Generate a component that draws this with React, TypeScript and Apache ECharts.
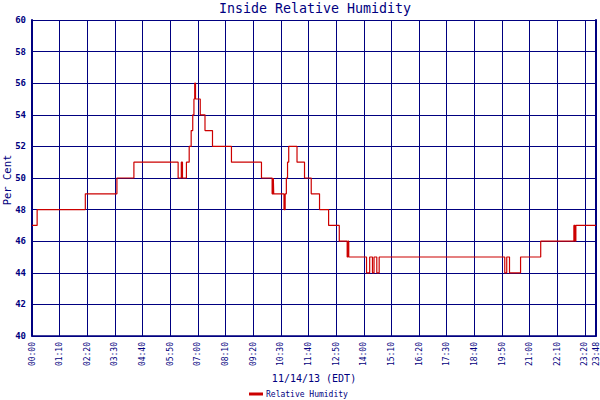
import React, { useEffect, useRef } from 'react';
import * as echarts from 'echarts';

// minutes since midnight where the reading changes, and the new value
const changeMinutes = [
  0, 13, 135, 215, 258, 370, 378, 381, 391, 398, 403, 407, 410, 412, 414, 426,
  438, 457, 505, 581, 608, 611, 612, 638, 641, 644, 647, 650, 671, 690, 707,
  728, 751, 778, 798, 800, 802, 847, 855, 862, 866, 873, 879, 1197, 1202, 1209,
  1237, 1288, 1372, 1375, 1377, 1428,
];
const humidity = [
  47, 48, 49, 50, 51, 50, 51, 50, 51, 52, 53, 54, 55, 56, 55, 54,
  53, 52, 51, 50, 49, 50, 49, 48, 49, 50, 51, 52, 51, 50, 49,
  48, 47, 46, 45, 46, 45, 44, 45, 44, 45, 44, 45, 44, 45, 44,
  45, 46, 47, 46, 47, 47,
];

const xMin = 0;
const xMax = 1428; // 23:48
const xStep = 70;
const yMin = 40;
const yMax = 60;
const yStep = 2;

const NAVY = '#000080';
const RED = '#cc0000';
const MONO = '"DejaVu Sans Mono", "Liberation Mono", monospace';

const fmtTime = (m: number) => {
  const h = Math.floor(m / 60);
  const mm = Math.round(m % 60);
  return String(h).padStart(2, '0') + ':' + String(mm).padStart(2, '0');
};

const App: React.FC = () => {
  const chartRef = useRef<HTMLDivElement>(null);

  useEffect(() => {
    if (!chartRef.current) return;
    const chart = echarts.init(chartRef.current, undefined, { renderer: 'svg' });

    const option = {
      animation: false,
      backgroundColor: '#ffffff',
      title: {
        text: 'Inside Relative Humidity',
        left: 315,
        top: 2,
        padding: 0,
        textAlign: 'center',
        textStyle: { fontFamily: MONO, fontSize: 13.3, fontWeight: 'normal', color: NAVY },
      },
      legend: {
        left: 249,
        top: 390,
        padding: 0,
        itemWidth: 14,
        itemHeight: 3,
        itemGap: 4,
        icon: 'rect',
        textStyle: { fontFamily: MONO, fontSize: 8, color: NAVY, padding: [0, 0, 0, -2] },
        data: ['Relative Humidity'],
      },
      grid: { left: 32, right: 2, top: 20, bottom: 64 },
      xAxis: {
        type: 'value',
        min: xMin,
        max: xMax,
        interval: xStep,
        axisLine: { show: true, lineStyle: { color: NAVY, width: 1.5 } },
        axisTick: { show: false },
        splitLine: { show: true, lineStyle: { color: NAVY, width: 1 } },
        axisLabel: {
          rotate: 90,
          margin: 6,
          showMaxLabel: true,
          showMinLabel: true,
          fontFamily: MONO,
          fontSize: 8,
          color: NAVY,
          formatter: (v: number) => fmtTime(v),
        },
      },
      yAxis: [
        {
          type: 'value',
          min: yMin,
          max: yMax,
          interval: yStep,
          axisLine: { show: true, lineStyle: { color: NAVY, width: 2 } },
          axisTick: { show: false },
          splitLine: { show: true, lineStyle: { color: NAVY, width: 1 } },
          axisLabel: {
            margin: 6,
            fontFamily: MONO,
            fontSize: 9,
            fontWeight: 'bold',
            color: NAVY,
          },
        },
        {
          type: 'value',
          position: 'right',
          min: yMin,
          max: yMax,
          interval: yStep,
          axisLine: { show: true, lineStyle: { color: NAVY, width: 2 } },
          axisTick: { show: false },
          splitLine: { show: false },
          axisLabel: { show: false },
        },
      ],
      graphic: [
        {
          type: 'text',
          x: 7,
          y: 180,
          rotation: Math.PI / 2,
          style: {
            text: 'Per Cent',
            fill: NAVY,
            font: '10.5px ' + MONO,
            textAlign: 'center',
            textVerticalAlign: 'middle',
          },
        },
        {
          type: 'text',
          x: 314,
          y: 378,
          style: {
            text: '11/14/13 (EDT)',
            fill: NAVY,
            font: '10px ' + MONO,
            textAlign: 'center',
            textVerticalAlign: 'middle',
          },
        },
      ],
      series: [
        {
          name: 'Relative Humidity',
          type: 'line',
          step: 'end',
          showSymbol: false,
          symbol: 'none',
          yAxisIndex: 0,
          itemStyle: { color: RED },
          lineStyle: { color: RED, width: 1.2 },
          data: changeMinutes.map((t, i) => [t, humidity[i]]),
        },
      ],
    };

    chart.setOption(option as any);
    return () => {
      chart.dispose();
    };
  }, []);

  return (
    <div
      ref={chartRef}
      style={{ position: 'fixed', left: 0, top: 0, width: 600, height: 400 }}
    />
  );
};

export default App;
